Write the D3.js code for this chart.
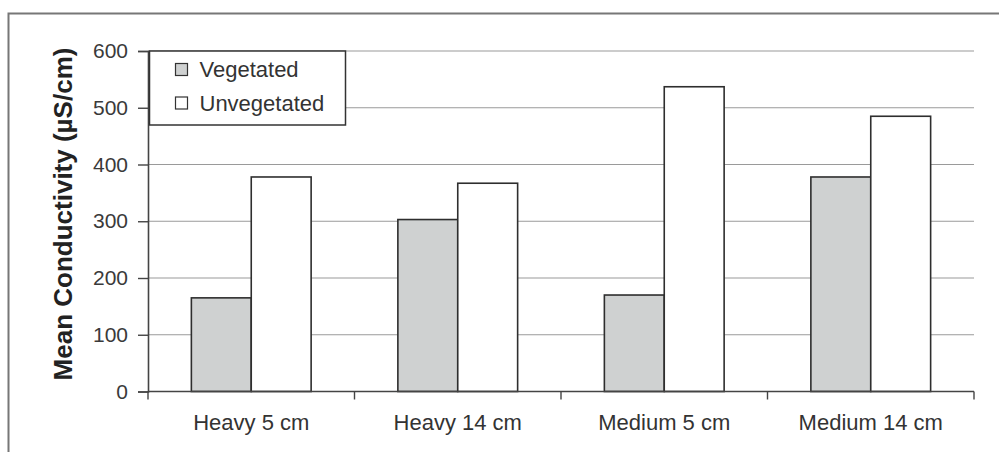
<!DOCTYPE html>
<html>
<head>
<meta charset="utf-8">
<script src="https://cdn.jsdelivr.net/npm/d3@7"></script>
<style>
  html, body { margin: 0; padding: 0; background: #fff; }
  svg { display: block; font-family: "Liberation Sans", Arial, sans-serif; }
</style>
</head>
<body>
<svg id="chart" width="999" height="452"></svg>
<script>
// Mean conductivity by treatment and sampling depth
const categories = ["Heavy 5 cm", "Heavy 14 cm", "Medium 5 cm", "Medium 14 cm"];
const seriesNames = ["Vegetated", "Unvegetated"];
const vegetated = [165, 303, 170, 378];
const unvegetated = [378, 367, 537, 485];
const yTicks = [0, 100, 200, 300, 400, 500, 600];
const yTitle = "Mean Conductivity (µS/cm)";

const fills = { Vegetated: "#cfd1d1", Unvegetated: "#ffffff" };

const svg = d3.select("#chart");
const plot = { left: 148, right: 974, top: 51, bottom: 391.5 };

// outer frame
svg.append("path")
  .attr("d", `M8.5,452 V13.5 H999`)
  .attr("fill", "none")
  .attr("stroke", "#777")
  .attr("stroke-width", 2);

const x0 = d3.scaleBand()
  .domain(categories)
  .range([plot.left, plot.right])
  .paddingInner(0.42)
  .paddingOuter(0.21);

const x1 = d3.scaleBand()
  .domain(seriesNames)
  .range([0, x0.bandwidth()]);

const y = d3.scaleLinear()
  .domain([0, 600])
  .range([plot.bottom, plot.top]);

// horizontal gridlines
svg.append("g")
  .selectAll("line")
  .data(yTicks.filter(d => d > 0))
  .join("line")
  .attr("x1", plot.left)
  .attr("x2", plot.right)
  .attr("y1", d => y(d))
  .attr("y2", d => y(d))
  .attr("stroke", "#9a9a9a")
  .attr("stroke-width", 1.2);

// bars
const rows = categories.map((c, i) => ({
  category: c,
  values: [
    { series: "Vegetated", value: vegetated[i] },
    { series: "Unvegetated", value: unvegetated[i] }
  ]
}));

svg.append("g")
  .selectAll("g")
  .data(rows)
  .join("g")
  .attr("transform", d => `translate(${x0(d.category)},0)`)
  .selectAll("rect")
  .data(d => d.values)
  .join("rect")
  .attr("x", d => x1(d.series))
  .attr("width", x1.bandwidth())
  .attr("y", d => y(d.value))
  .attr("height", d => y(0) - y(d.value))
  .attr("fill", d => fills[d.series])
  .attr("stroke", "#2e2e2e")
  .attr("stroke-width", 1.6);

// y axis
const yAxis = svg.append("g")
  .attr("transform", `translate(${plot.left},0)`)
  .call(d3.axisLeft(y).tickValues(yTicks).tickSize(10).tickPadding(10));
yAxis.select(".domain").attr("stroke", "#444").attr("stroke-width", 1.6);
yAxis.selectAll(".tick line").attr("stroke", "#444").attr("stroke-width", 1.4);
yAxis.selectAll(".tick text")
  .attr("fill", "#3a3a3a")
  .style("font-size", "21px")
  .style("font-family", "'Liberation Sans', Arial, sans-serif");

// x axis with ticks at category boundaries
const xAxisG = svg.append("g")
  .attr("transform", `translate(0,${plot.bottom})`);
xAxisG.append("line")
  .attr("x1", plot.left).attr("x2", plot.right)
  .attr("stroke", "#444").attr("stroke-width", 1.6);
const boundaries = categories.map(c => x0(c) - x0.step() * x0.paddingInner() / 2)
  .concat([plot.right]);
xAxisG.selectAll("line.tk")
  .data(boundaries)
  .join("line")
  .attr("class", "tk")
  .attr("x1", d => d).attr("x2", d => d)
  .attr("y1", 0).attr("y2", 8)
  .attr("stroke", "#444").attr("stroke-width", 1.4);
xAxisG.selectAll("text")
  .data(categories)
  .join("text")
  .attr("x", d => x0(d) + x0.bandwidth() / 2)
  .attr("y", 38.5)
  .attr("text-anchor", "middle")
  .attr("fill", "#333")
  .style("font-size", "22px")
  .text(d => d);

// y title
svg.append("text")
  .attr("transform", `translate(72,214) rotate(-90)`)
  .attr("text-anchor", "middle")
  .attr("fill", "#222")
  .style("font-size", "26px")
  .style("font-weight", "bold")
  .text(yTitle);

// legend
const legend = svg.append("g").attr("transform", "translate(149.5,51)");
legend.append("rect")
  .attr("width", 196).attr("height", 74)
  .attr("fill", "#fff")
  .attr("stroke", "#333").attr("stroke-width", 1.5);
legend.selectAll("g")
  .data(seriesNames)
  .join("g")
  .attr("transform", (d, i) => `translate(26,${12.5 + i * 33.5})`)
  .call(g => {
    g.append("rect")
      .attr("width", 12).attr("height", 12)
      .attr("fill", d => fills[d])
      .attr("stroke", "#333").attr("stroke-width", 1.2);
    g.append("text")
      .attr("x", 24).attr("y", 13.5)
      .attr("fill", "#333")
      .style("font-size", "22px")
      .text(d => d);
  });
</script>
</body>
</html>
